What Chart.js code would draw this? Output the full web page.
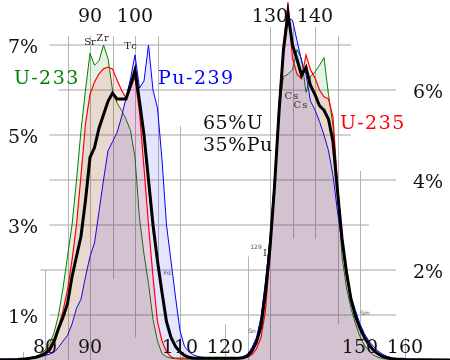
<!DOCTYPE html>
<html lang="en">
<head>
<meta charset="UTF-8">
<title>Fission product yield</title>
<script src="https://cdn.jsdelivr.net/npm/chart.js"></script>
<style>
  body { margin: 0; background: #fff; }
  .wrap { position: relative; width: 450px; height: 360px; }
</style>
</head>
<body>
<div class="wrap"><canvas id="yieldChart"></canvas></div>
<script>
// mass numbers (x) and yields in % (y)
const masses = [70, 74, 76,
  78, 79, 80, 81, 82, 83, 84, 85, 86, 87, 88, 89, 90, 91, 92, 93, 94, 95, 96, 97,
  98, 99, 100, 101, 102, 103, 104, 105, 106, 107, 108, 109, 110, 111, 112, 113, 114, 115, 116, 117,
  118, 119, 120, 121, 122, 123, 124, 125, 126, 127, 128, 129, 130, 131, 132, 133, 134, 135, 136, 137,
  138, 139, 140, 141, 142, 143, 144, 145, 146, 147, 148, 149, 150, 151, 152, 153, 154, 155, 156, 157,
  158, 160, 164, 170];

const u233 = [0.005, 0.01, 0.03,
  0.08, 0.14, 0.22, 0.36, 0.6, 1.0, 1.6, 2.3, 3.0, 4.0, 5.1, 6.0, 6.82, 6.55, 6.65, 7.0, 6.7, 6.0, 5.71, 5.55,
  5.35, 5.1, 4.5, 3.15, 2.35, 1.7, 0.9, 0.42, 0.14, 0.07, 0.04, 0.03, 0.02, 0.02, 0.02, 0.02, 0.02, 0.02, 0.02, 0.02,
  0.02, 0.02, 0.02, 0.02, 0.02, 0.03, 0.05, 0.1, 0.22, 0.45, 0.95, 1.7, 2.7, 4.0, 5.6, 6.3, 6.35, 6.45, 6.9, 6.7,
  5.95, 6.3, 6.4, 6.55, 6.72, 5.9, 5.2, 3.8, 2.3, 1.6, 1.15, 0.8, 0.52, 0.33, 0.2, 0.11, 0.06, 0.03, 0.02, 0.01,
  0.01, 0.005, 0.002, 0.001];

const u235 = [0.002, 0.01, 0.02,
  0.06, 0.1, 0.18, 0.29, 0.47, 0.73, 1.09, 1.56, 2.22, 3.0, 4.1, 5.25, 5.9, 6.18, 6.36, 6.47, 6.51, 6.47, 6.22, 6.0,
  5.82, 6.04, 6.29, 5.5, 4.27, 3.0, 1.85, 0.85, 0.42, 0.18, 0.07, 0.04, 0.04, 0.04, 0.04, 0.04, 0.04, 0.04, 0.04, 0.04,
  0.04, 0.04, 0.04, 0.04, 0.04, 0.04, 0.04, 0.06, 0.12, 0.25, 0.5, 1.1, 2.4, 3.8, 5.5, 7.0, 7.95, 6.7, 6.35, 6.25,
  6.78, 6.45, 6.27, 6.0, 5.85, 5.8, 5.4, 3.9, 2.75, 2.0, 1.35, 0.97, 0.7, 0.48, 0.32, 0.2, 0.12, 0.07, 0.04, 0.02,
  0.015, 0.01, 0.005, 0.002];

const pu239 = [0.01, 0.02, 0.04,
  0.07, 0.08, 0.1, 0.13, 0.17, 0.28, 0.42, 0.55, 0.8, 1.15, 1.35, 1.85, 2.3, 2.6, 3.3, 4.0, 4.65, 4.85, 5.05, 5.4,
  5.82, 6.25, 6.78, 6.04, 6.2, 7.0, 6.0, 5.6, 4.45, 3.0, 2.2, 1.4, 0.65, 0.3, 0.18, 0.11, 0.08, 0.06, 0.05, 0.05,
  0.05, 0.05, 0.05, 0.05, 0.05, 0.05, 0.07, 0.13, 0.28, 0.5, 0.95, 1.75, 2.7, 4.0, 5.7, 7.0, 7.6, 7.55, 7.1, 6.65,
  6.35, 5.75, 5.56, 5.3, 5.0, 4.65, 4.1, 3.3, 2.6, 1.85, 1.4, 1.1, 0.8, 0.58, 0.42, 0.3, 0.2, 0.13, 0.08, 0.05,
  0.03, 0.02, 0.01, 0.005];

const mix = [0.004, 0.01, 0.03,
  0.06, 0.09, 0.14, 0.22, 0.4, 0.7, 0.95, 1.25, 1.85, 2.3, 2.75, 3.55, 4.5, 4.72, 5.15, 5.45, 5.75, 5.93, 5.8, 5.8,
  5.8, 6.1, 6.44, 5.75, 5.0, 4.0, 3.0, 2.2, 1.5, 0.85, 0.5, 0.3, 0.18, 0.1, 0.06, 0.04, 0.04, 0.04, 0.04, 0.04,
  0.04, 0.04, 0.04, 0.04, 0.04, 0.04, 0.05, 0.09, 0.2, 0.4, 0.75, 1.5, 2.5, 3.85, 5.5, 6.9, 7.7, 7.0, 6.68, 6.33,
  6.5, 6.1, 5.9, 5.65, 5.55, 5.35, 4.85, 3.75, 2.7, 1.95, 1.35, 0.97, 0.7, 0.5, 0.34, 0.22, 0.14, 0.08, 0.05, 0.03,
  0.02, 0.01, 0.005, 0.002];

const topTicks = [90, 100, 130, 140];
const bottomTicks = [80, 90, 110, 120, 150, 160];
const leftTicks = [1, 3, 5, 7];
const rightTicks = [2, 4, 6];

const toPoints = arr => masses.map((m, i) => ({ x: m, y: arr[i] }));

// partial grid lines, in data units
const hGrid = [[7, 81, 148], [6, 83, 158], [5, 81, 148], [4, 81, 158], [3, 81, 152], [2, 79, 158], [1, 81, 158]];
const vGrid = [[75, 0, 0.18], [80, 0, 2], [85, 0, 7.2], [90, 0, 7.2], [95, 1.8, 7.2], [100, 0.5, 7.2],
  [105, 2, 7.2], [110, 0, 5.2], [120, 0, 0.8], [125, 0, 2.3], [130, 0, 7.4], [135, 2.7, 7.4],
  [140, 2.7, 7.4], [145, 0.8, 7.2], [150, 0.45, 4.2], [160, 0, 0.5]];

const gridPlugin = {
  id: 'gridSegs',
  beforeDatasetsDraw(chart) {
    const { ctx, scales: { x, y } } = chart;
    ctx.save();
    ctx.strokeStyle = '#d2d2d2';
    ctx.lineWidth = 2;
    hGrid.forEach(([v, a1, a2]) => {
      ctx.beginPath();
      ctx.moveTo(x.getPixelForValue(a1), y.getPixelForValue(v));
      ctx.lineTo(x.getPixelForValue(a2), y.getPixelForValue(v));
      ctx.stroke();
    });
    ctx.strokeStyle = '#b4b4b4';
    ctx.lineWidth = 1;
    vGrid.forEach(([a, v1, v2]) => {
      const px = Math.round(x.getPixelForValue(a)) + 0.5;
      ctx.beginPath();
      ctx.moveTo(px, y.getPixelForValue(v1));
      ctx.lineTo(px, y.getPixelForValue(v2));
      ctx.stroke();
    });
    ctx.restore();
  }
};

const labelPlugin = {
  id: 'labels',
  afterDatasetsDraw(chart) {
    const { ctx, scales: { x, y } } = chart;
    const put = (text, px, py, font, color, align, spacing) => {
      ctx.font = font;
      ctx.fillStyle = color;
      ctx.textAlign = align || 'center';
      ctx.letterSpacing = spacing || '0px';
      ctx.fillText(text, px, py);
    };
    ctx.save();
    ctx.textBaseline = 'middle';
    const big = '19px "DejaVu Serif"';
    topTicks.forEach(t => put(String(t), x.getPixelForValue(t), 17, big, '#111'));
    bottomTicks.forEach(t => put(String(t), x.getPixelForValue(t), 348, big, '#111'));
    leftTicks.forEach(t => put(t + '%', 23, y.getPixelForValue(t) + 3, big, '#111'));
    rightTicks.forEach(t => put(t + '%', 428, y.getPixelForValue(t) + 3, big, '#111'));

    put('U-233', 14, 79, big, '#008000', 'left', '1.5px');
    put('Pu-239', 158, 79, big, '#0000ff', 'left', '1.5px');
    put('U-235', 340, 124, big, '#ff0000', 'left', '1.5px');
    put('65%U', 203, 124, big, '#111', 'left', '0.5px');
    put('35%Pu', 203, 146, big, '#111', 'left', '0.5px');

    const small = '10px "DejaVu Serif"';
    put('Sr', 90, 42, small, '#222');
    put('Zr', 103, 38, small, '#222', 'center', '1px');
    put('Tc', 131, 46, small, '#222', 'center', '1px');
    put('Cs', 292, 96, small, '#333', 'center', '1px');
    put('Cs', 301, 105, small, '#333', 'center', '1px');
    const tiny = '6px "DejaVu Sans"';
    put('Pd', 167, 273, tiny, '#555');
    put('129', 256, 247, tiny, '#555');
    put('I', 265, 253, '10px "DejaVu Serif"', '#333');
    put('Sn', 252, 331, tiny, '#555');
    put('Sm', 365, 313, tiny, '#555');
    ctx.restore();
  }
};

const ctx = document.getElementById('yieldChart').getContext('2d');

const yieldChart = new Chart(ctx, {
  type: 'line',
  data: {
    datasets: [
      {
        label: '65%U 35%Pu',
        data: toPoints(mix),
        borderColor: '#000',
        borderWidth: 3,
        fill: false
      },
      {
        label: 'U-235',
        data: toPoints(u235),
        borderColor: '#ff0000',
        backgroundColor: 'rgba(255, 0, 0, 0.1)',
        borderWidth: 1.2,
        fill: 'origin'
      },
      {
        label: 'Pu-239',
        data: toPoints(pu239),
        borderColor: '#0000ff',
        backgroundColor: 'rgba(0, 0, 255, 0.1)',
        borderWidth: 1,
        fill: 'origin'
      },
      {
        label: 'U-233',
        data: toPoints(u233),
        borderColor: '#008000',
        backgroundColor: 'rgba(0, 128, 0, 0.1)',
        borderWidth: 1,
        fill: 'origin'
      }
    ]
  },
  options: {
    responsive: true,
    maintainAspectRatio: false,
    animation: false,
    layout: { padding: 0 },
    elements: { point: { radius: 0 }, line: { tension: 0 } },
    plugins: { legend: { display: false }, tooltip: { enabled: false } },
    scales: {
      x: { type: 'linear', min: 70, max: 170, display: false },
      y: { min: 0, max: 8, display: false }
    }
  },
  plugins: [gridPlugin, labelPlugin]
});
</script>
</body>
</html>
